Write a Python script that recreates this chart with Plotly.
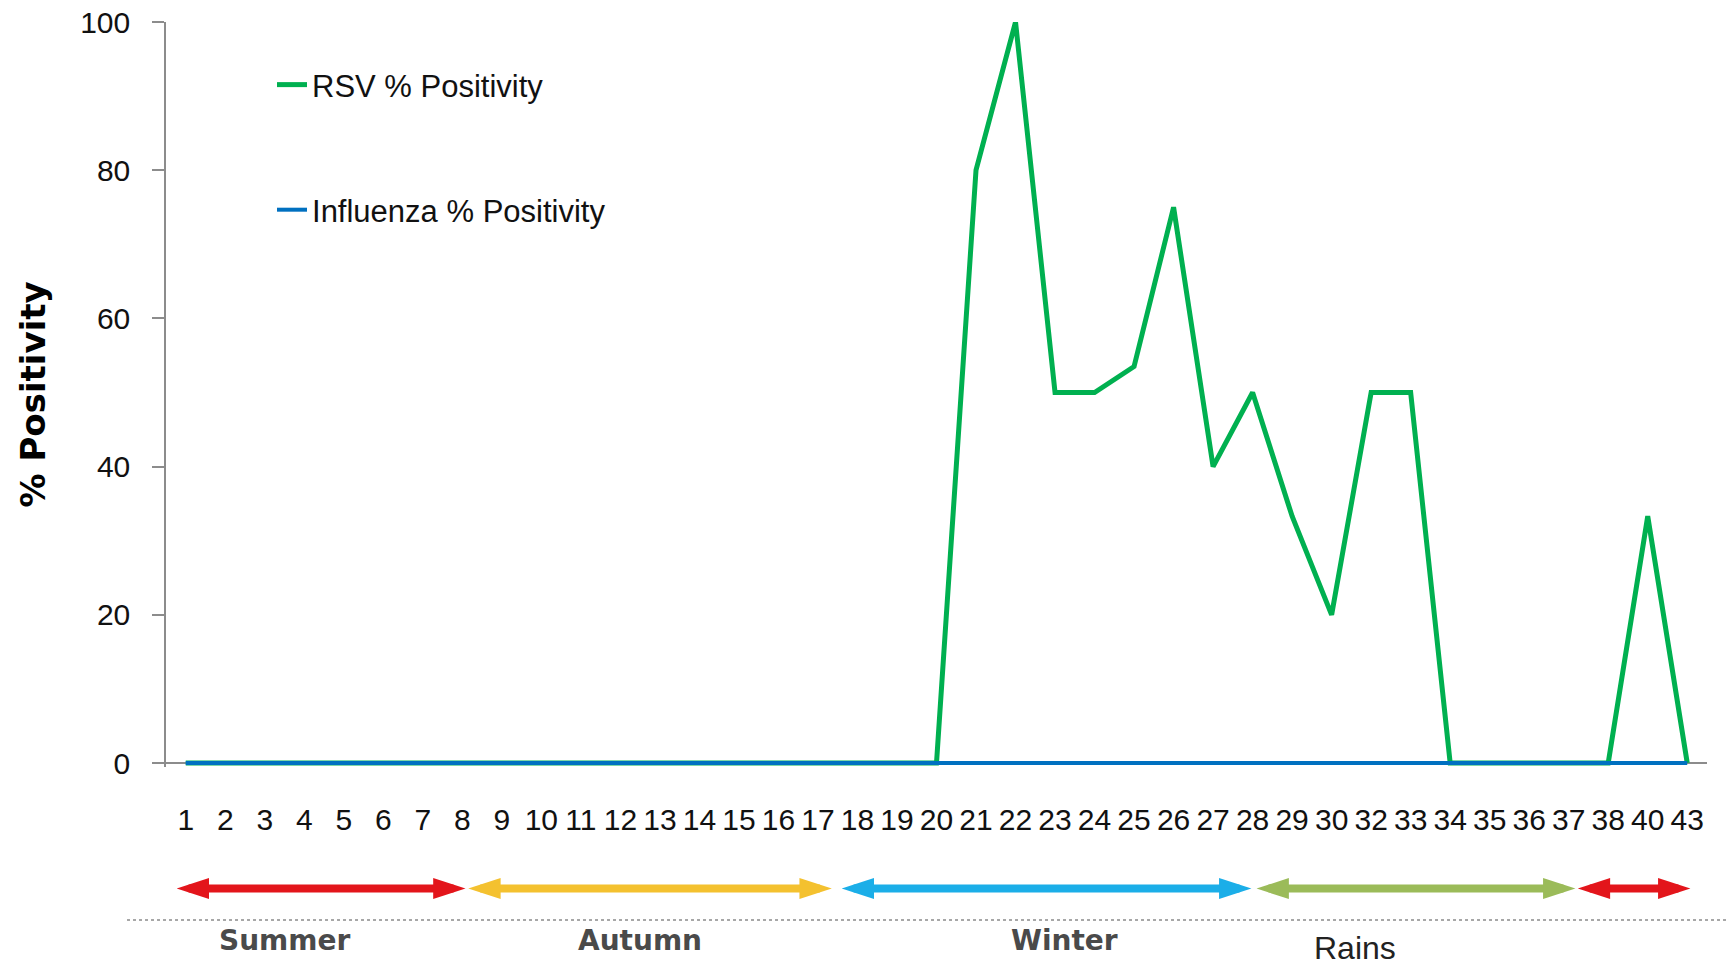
"""RSV / Influenza % positivity by week, with season bands underneath."""

import plotly.graph_objects as go

weeks = [str(w) for w in range(1, 31)] + ["32", "33", "34", "35", "36", "37", "38", "40", "43"]

rsv_pct = [
    0, 0, 0, 0, 0, 0, 0, 0, 0, 0,
    0, 0, 0, 0, 0, 0, 0, 0, 0, 0,
    80, 100, 50, 50, 53.5, 75, 40, 50, 33.3, 20,
    50, 50, 0, 0, 0, 0, 0, 33.3, 0,
]
flu_pct = [0] * len(weeks)

# 季節の区間（週カテゴリの位置, 0 = 第1週）
season_names = ["Summer", "Autumn", "Winter", "Rains", "Summer"]
season_start = [-0.23, 7.15, 16.6, 27.1, 35.23]
season_end = [7.08, 16.35, 26.97, 35.17, 38.08]
season_colors = ["#E3151B", "#F4C12F", "#1BAEE8", "#9BBB59", "#E3151B"]
season_label_at = [2.5, 11.5, 22.25, 29.6, None]

TICK_FONT = "Liberation Sans, Arial, sans-serif"
AXIS_GRAY = "#8C8C8C"
ARROW_Y = 0.41
HEAD_SIZE = 34
PX_PER_WEEK = 1541 / len(weeks)

fig = go.Figure()

fig.add_trace(
    go.Scatter(
        x=weeks, y=rsv_pct, mode="lines", name="RSV % Positivity",
        line=dict(color="#00B050", width=5), legend="legend",
    )
)
fig.add_trace(
    go.Scatter(
        x=weeks, y=flu_pct, mode="lines", name="Influenza % Positivity",
        line=dict(color="#0070C0", width=4), legend="legend2",
    )
)

# 矢じりの先端はマーカー位置、軸線は先端より少し手前で止める
inset = 12 / PX_PER_WEEK
for name, x0, x1, color in zip(season_names, season_start, season_end, season_colors):
    fig.add_trace(
        go.Scatter(
            x=[x0 + inset, x1 - inset], y=[ARROW_Y, ARROW_Y],
            mode="lines", xaxis="x2", yaxis="y2", showlegend=False,
            line=dict(color=color, width=8), hoverinfo="skip", name=name,
        )
    )
    fig.add_trace(
        go.Scatter(
            x=[x0, x1], y=[ARROW_Y, ARROW_Y],
            mode="markers", xaxis="x2", yaxis="y2", showlegend=False,
            marker=dict(symbol="arrow", angle=[-90, 90], size=HEAD_SIZE, color=color),
            hoverinfo="skip", name=name, cliponaxis=False,
        )
    )

for name, pos in zip(season_names, season_label_at):
    if pos is None:
        continue
    rains = name == "Rains"
    fig.add_annotation(
        text=name, x=pos, xref="x2", yref="paper",
        y=0.019 if rains else 0.0275, yanchor="middle", showarrow=False,
        font=dict(
            family=TICK_FONT if rains else "DejaVu Sans",
            size=32 if rains else 28,
            color="#222222" if rains else "#4a4a4a",
            weight="normal" if rains else "bold",
        ),
    )

# 季節表の上の点線
fig.add_shape(
    type="line", xref="paper", yref="paper", x0=-0.0253, x1=1.013, y0=0.0487, y1=0.0487,
    line=dict(color="#8A8A8A", width=1.5, dash="dot"),
)

legend_common = dict(
    xref="paper", yref="paper", x=0.0688, xanchor="left", yanchor="middle",
    bgcolor="rgba(0,0,0,0)", font=dict(family=TICK_FONT, size=31, color="#111111"),
)

fig.update_layout(
    width=1733,
    height=966,
    margin=dict(l=166, r=26, t=22, b=0),
    plot_bgcolor="white",
    paper_bgcolor="white",
    font=dict(family=TICK_FONT, color="#111111"),
    showlegend=True,
    legend=dict(y=0.9333, **legend_common),
    legend2=dict(y=0.8008, **legend_common),
    xaxis=dict(
        type="category", categoryorder="array", categoryarray=weeks,
        range=[-0.5, len(weeks) - 0.5], domain=[0, 1], anchor="y", automargin=False,
        showline=False, showgrid=False, zeroline=False,
        ticks="", tickmode="linear", dtick=1, ticklabelstandoff=32, tickangle=0,
        tickfont=dict(family=TICK_FONT, size=30, color="#111111"),
    ),
    yaxis=dict(
        domain=[0.2111, 1], anchor="x", range=[-0.5, 100], tickvals=[0, 20, 40, 60, 80, 100],
        automargin=False,
        showline=True, linecolor=AXIS_GRAY, linewidth=1.5, showgrid=False,
        zeroline=True, zerolinecolor=AXIS_GRAY, zerolinewidth=1.5, layer="below traces",
        ticks="outside", ticklen=12, tickcolor=AXIS_GRAY, tickwidth=1.5,
        ticklabelstandoff=16,
        tickfont=dict(family=TICK_FONT, size=30, color="#111111"),
        title=dict(
            text="% Positivity", standoff=24,
            font=dict(family="DejaVu Sans", size=34, color="#000000", weight="bold"),
        ),
    ),
    xaxis2=dict(
        domain=[0, 1], anchor="y2", range=[-0.5, len(weeks) - 0.5], visible=False,
        automargin=False,
    ),
    yaxis2=dict(domain=[0, 0.2], anchor="x2", range=[0, 1], visible=False, automargin=False),
    hovermode=False,
)

# ページ既定の余白で図がずれないようにする
fig.write_html(
    "out.html",
    config={"displayModeBar": False},
    post_script="document.body.style.margin = '0';",
)
